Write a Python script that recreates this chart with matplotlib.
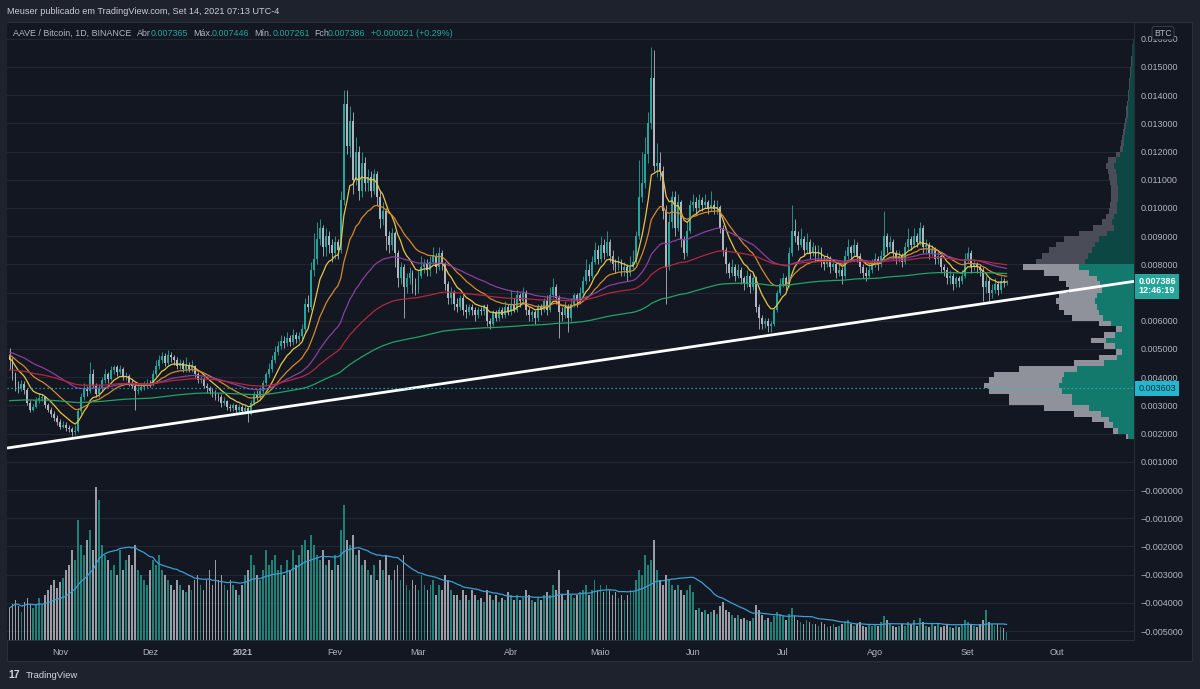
import numpy as np
import pandas as pd
import matplotlib
matplotlib.use('Agg')
import matplotlib.pyplot as plt
from matplotlib.patches import Rectangle

plt.rcParams['font.family'] = ['Liberation Sans', 'DejaVu Sans']

# ---------------- data ----------------
start_date = '2020-10-15'
first_open_mbtc = 4.8
close_mbtc = [
4.6, 4.1, 3.7, 3.6, 3.75, 3.55, 3.1, 2.85, 2.95, 3.2,
3.25, 3.3, 3.0, 2.85, 2.7, 2.55, 2.4, 2.25, 2.3, 2.2,
2.15, 2.05, 2.1, 2.8, 3.3, 3.6, 3.5, 4.1, 3.7, 3.4,
3.6, 3.9, 4.1, 3.95, 4.25, 4.35, 4.2, 4.3, 4.0, 4.05,
3.8, 3.7, 3.5, 3.55, 3.65, 3.7, 3.8, 3.75, 4.1, 4.4,
4.6, 4.75, 4.5, 4.8, 4.7, 4.6, 4.4, 4.5, 4.3, 4.45,
4.3, 4.4, 4.1, 3.9, 3.95, 3.7, 3.6, 3.5, 3.45, 3.35,
3.3, 3.1, 3.15, 2.95, 2.9, 3.0, 2.85, 2.95, 2.8, 2.9,
2.7, 3.1, 3.4, 3.3, 3.5, 3.8, 4.1, 4.3, 4.6, 4.9,
5.1, 5.3, 5.2, 5.4, 5.25, 5.5, 5.35, 5.45, 5.7, 6.6,
6.5, 7.8, 8.2, 8.9, 9.3, 8.6, 9.0, 8.7, 8.4, 8.8,
8.5, 10.3, 13.7, 12.2, 13.1, 11.0, 12.0, 10.6, 11.6, 10.9,
11.1, 10.6, 11.2, 10.4, 9.6, 9.9, 9.0, 8.7, 9.1, 8.4,
7.5, 7.9, 7.2, 7.5, 7.7, 7.3, 7.1, 7.6, 7.9, 8.0,
7.8, 8.1, 8.3, 7.9, 8.4, 8.0, 7.3, 6.8, 7.0, 6.6,
6.5, 6.8, 6.4, 6.3, 6.5, 6.4, 6.2, 6.4, 6.35, 6.5,
6.0, 5.9, 6.3, 6.1, 6.4, 6.2, 6.5, 6.3, 6.6, 6.4,
6.9, 6.7, 7.0, 6.4, 6.2, 6.3, 6.1, 6.5, 6.4, 6.7,
6.4, 6.9, 7.2, 6.8, 6.3, 6.2, 6.5, 6.1, 6.6, 6.9,
6.7, 7.0, 7.4, 7.8, 7.6, 8.1, 8.5, 8.2, 8.7, 8.4,
8.8, 8.3, 8.0, 7.9, 8.1, 7.8, 7.9, 7.7, 7.9, 8.1,
9.0, 10.4, 10.9, 11.9, 13.0, 14.6, 11.5, 11.6, 11.3, 9.9,
7.9, 9.5, 10.4, 9.3, 10.2, 8.9, 8.4, 9.2, 10.1, 10.2,
10.0, 10.3, 10.1, 10.2, 10.0, 10.1, 9.95, 10.05, 9.3, 8.5,
8.0, 7.7, 7.9, 7.6, 7.8, 7.5, 7.3, 7.6, 7.2, 7.5,
6.5, 6.1, 5.9, 6.0, 5.8, 5.9, 6.4, 7.0, 7.3, 7.5,
7.3, 8.4, 9.2, 9.0, 8.7, 8.9, 8.5, 8.8, 8.4, 8.6,
8.3, 8.5, 8.1, 8.0, 8.2, 7.9, 8.0, 7.7, 7.8, 7.6,
8.3, 8.6, 8.4, 8.7, 8.3, 7.9, 7.7, 7.6, 7.8, 8.0,
8.2, 8.0, 8.3, 9.0, 8.6, 8.8, 8.4, 8.2, 8.3, 8.1,
8.6, 8.9, 8.7, 9.0, 8.8, 9.3, 8.6, 8.7, 8.4, 8.5,
8.2, 8.3, 7.9, 7.8, 7.5, 7.6, 7.3, 7.5, 7.4, 7.6,
8.2, 8.4, 7.9, 8.0, 7.9, 7.8, 7.2, 7.4, 7.0, 7.1,
7.3, 7.1, 7.4, 7.365, 7.386]
high_mbtc = [
5.05,4.7,4.2,3.85,3.9,3.85,3.6,3.2,3.05,3.3,
3.45,3.4,3.35,3.1,2.95,2.8,2.65,2.5,2.45,2.4,
2.3,2.25,2.3,2.9,3.45,3.8,3.7,4.55,4.3,3.8,
3.75,4.0,4.3,4.2,4.4,4.45,4.45,4.45,4.35,4.2,
4.1,3.95,3.8,3.7,3.8,3.85,3.95,3.9,4.25,4.6,
4.8,4.9,4.85,4.95,4.9,4.8,4.7,4.65,4.6,4.7,
4.55,4.6,4.45,4.2,4.05,4.0,3.8,3.7,3.6,3.55,
3.45,3.4,3.3,3.2,3.05,3.1,3.05,3.05,3.0,3.0,
2.95,3.2,3.5,3.55,3.65,3.9,4.2,4.5,4.8,5.1,
5.3,5.5,5.45,5.6,5.5,5.7,5.6,5.6,5.9,6.8,
6.9,8.1,9.1,9.5,9.6,9.4,9.3,9.2,8.9,9.0,
8.9,10.6,14.2,14.2,13.6,13.4,12.5,12.2,12.0,11.8,
11.4,11.3,11.4,11.3,10.6,10.2,10.0,9.2,9.3,9.2,
8.5,8.1,8.0,7.7,7.9,7.8,7.5,7.8,8.3,8.2,
8.2,8.3,8.6,8.4,8.6,8.5,8.1,7.4,7.2,7.1,
6.8,6.9,6.9,6.6,6.6,6.6,6.5,6.5,6.5,6.6,
6.6,6.1,6.4,6.4,6.5,6.5,6.7,6.6,7.1,6.8,
7.1,7.0,7.2,7.1,6.5,6.4,6.4,6.6,6.6,6.8,
6.9,7.2,7.5,7.3,6.9,6.5,6.7,6.6,6.8,7.0,
7.0,7.2,7.6,8.2,8.0,8.3,8.8,8.7,9.0,8.9,
9.2,8.9,8.5,8.2,8.3,8.2,8.1,8.0,8.3,8.5,
9.2,11.7,12.0,12.5,13.4,15.7,15.6,12.3,12.0,11.5,
10.1,9.8,10.6,10.6,10.5,10.3,9.0,9.5,10.3,10.5,
10.4,10.5,10.4,10.5,10.3,10.6,10.3,10.3,10.1,9.4,
8.6,8.1,8.2,8.0,8.0,7.9,7.6,7.8,7.7,7.7,
7.6,6.6,6.2,6.1,6.1,6.0,6.5,7.1,7.5,7.7,
7.6,8.6,10.1,9.6,9.2,9.3,9.0,9.1,8.9,8.8,
8.7,8.7,8.6,8.3,8.4,8.3,8.2,8.1,8.0,7.9,
8.5,8.9,8.7,8.9,8.8,8.4,8.0,7.9,8.0,8.2,
8.4,8.3,8.5,9.9,9.1,9.0,8.9,8.5,8.5,8.4,
8.8,9.3,9.0,9.3,9.1,9.5,9.4,8.9,8.8,8.7,
8.6,8.5,8.4,8.0,7.9,7.8,7.7,7.6,7.6,7.8,
8.4,8.6,8.5,8.2,8.1,8.0,7.9,7.6,7.5,7.3,
7.5,7.4,7.6,7.5,7.446]
low_mbtc = [
4.3,3.9,3.5,3.45,3.5,3.4,3.0,2.75,2.8,2.9,
3.1,3.15,2.9,2.75,2.6,2.45,2.3,2.15,2.2,2.1,
2.05,1.9,1.95,2.05,2.7,3.2,3.35,3.45,3.6,3.3,
3.3,3.5,3.8,3.8,3.9,4.1,4.05,4.1,3.9,3.9,
3.7,3.6,2.85,3.4,3.5,3.55,3.6,3.65,3.7,4.0,
4.3,4.5,4.4,4.45,4.55,4.45,4.3,4.3,4.2,4.2,
4.2,4.2,4.0,3.8,3.8,3.6,3.45,3.4,3.3,3.2,
3.15,2.95,3.0,2.85,2.8,2.8,2.75,2.75,2.7,2.7,
2.4,2.65,3.0,3.2,3.2,3.45,3.7,4.0,4.2,4.5,
4.8,5.0,5.05,5.1,5.1,5.15,5.2,5.25,5.35,5.6,
6.3,6.4,7.6,8.0,8.7,8.3,8.3,8.4,8.1,8.2,
8.2,8.4,10.1,11.9,11.8,10.5,10.8,10.3,10.4,10.6,
10.6,10.4,10.5,10.1,9.3,9.4,8.5,8.4,8.5,7.9,
7.2,7.3,6.1,7.0,7.3,7.0,6.9,7.0,7.5,7.7,
7.6,7.6,8.0,7.7,7.8,7.8,7.1,6.6,6.6,6.4,
6.3,6.4,6.2,6.1,6.2,6.2,6.0,6.1,6.2,6.2,
5.8,5.7,5.8,6.0,6.0,6.1,6.1,6.2,6.2,6.3,
6.3,6.5,6.6,6.2,6.0,6.0,5.9,6.0,6.2,6.3,
6.2,6.3,6.8,6.6,5.4,6.0,6.1,5.6,6.0,6.5,
6.5,6.6,6.9,7.3,7.4,7.5,8.0,8.0,8.1,8.2,
8.3,8.1,7.8,7.7,7.8,7.6,7.6,7.4,7.6,7.8,
8.0,8.9,10.2,10.7,11.6,12.8,11.3,11.1,11.0,9.6,
6.6,7.8,9.3,9.0,9.2,8.6,8.2,8.3,9.1,9.9,
9.8,9.9,9.9,10.0,9.8,9.9,9.8,9.8,9.1,8.3,
7.7,7.5,7.6,7.4,7.5,7.3,7.1,7.2,7.0,7.1,
6.3,5.7,5.7,5.75,5.6,5.6,5.8,6.3,6.9,7.2,
7.1,7.2,8.3,8.8,8.5,8.6,8.3,8.4,8.2,8.3,
8.1,8.2,7.9,7.8,7.9,7.7,7.8,7.5,7.6,7.3,
7.5,8.2,8.2,8.3,8.1,7.7,7.5,7.4,7.5,7.7,
7.9,7.8,7.9,8.2,8.4,8.5,8.2,8.0,8.1,7.9,
8.0,8.5,8.5,8.6,8.6,8.7,8.4,8.4,8.2,8.3,
8.0,8.0,7.7,7.6,7.3,7.3,7.1,7.2,7.2,7.3,
7.5,8.1,7.7,7.8,7.7,7.6,6.7,7.0,6.7,6.8,
7.0,6.9,7.0,7.2,7.261]
volume = [
32, 36, 40, 34, 28, 38, 42, 36, 32, 35,
42, 35, 45, 50, 55, 60, 52, 58, 62, 70,
75, 90, 80, 120, 95, 85, 100, 110, 90, 153,
140, 95, 85, 80, 70, 75, 65, 90, 70, 80,
85, 75, 95, 70, 65, 60, 55, 70, 80, 75,
85, 70, 65, 60, 55, 50, 60, 55, 50, 48,
55, 50, 60, 65, 55, 50, 60, 70, 55, 80,
60, 65, 55, 50, 60, 55, 50, 45, 55, 65,
70, 85, 75, 65, 60, 70, 90, 75, 80, 85,
70, 75, 65, 80, 70, 90, 75, 85, 95, 100,
90, 105, 95, 85, 80, 90, 75, 80, 70, 85,
75, 110, 135, 100, 95, 105, 85, 90, 75, 80,
70, 65, 75, 60, 80, 70, 85, 65, 60, 70,
75, 60, 85, 55, 50, 60, 55, 50, 65, 55,
50, 55, 60, 45, 55, 50, 65, 60, 50, 45,
45, 40, 50, 45, 40, 50, 45, 40, 42, 38,
50, 45, 40, 45, 38, 42, 40, 48, 45, 40,
45, 40, 42, 50, 45, 40, 38, 42, 40, 45,
48, 45, 55, 50, 70, 45, 40, 50, 45, 42,
45, 48, 50, 55, 45, 50, 60, 50, 55, 48,
55, 50, 45, 48, 42, 45, 40, 45, 50, 48,
60, 70, 65, 85, 75, 80, 100, 70, 60, 55,
65, 60, 55, 50, 55, 50, 45, 50, 55, 48,
30, 32, 28, 30, 26, 28, 30, 26, 34, 38,
30, 28, 25, 22, 25, 21, 22, 20, 19, 22,
35, 30, 25, 20, 22, 18, 24, 28, 26, 24,
20, 26, 32, 24, 20, 18, 16, 20, 18, 16,
16, 14, 18, 16, 13, 14, 16, 13, 14, 16,
18, 20, 16, 14, 16, 18, 14, 13, 16, 14,
16, 14, 18, 24, 20, 16, 14, 13, 14, 16,
14, 18, 16, 20, 14, 22, 18, 14, 13, 16,
14, 16, 13, 14, 16, 13, 12, 14, 13, 16,
20, 18, 16, 14, 13, 16, 20, 30, 18, 16,
14, 16, 13, 12, 8]

ema_periods = [9, 21, 50, 100, 200]
ema_seed_mbtc = [4.7, 4.8, 4.9, 4.25, 3.15]
ema_colors = ['#e8c547', '#d48a2c', '#8a3fa0', '#b3283f', '#21a366']
vol_ma_period = 20

month_starts = ['2020-11-01', '2020-12-01', '2021-01-01', '2021-02-01', '2021-03-01',
                '2021-04-01', '2021-05-01', '2021-06-01', '2021-07-01', '2021-08-01',
                '2021-09-01', '2021-10-01']
month_labels = ['Nov', 'Dez', '2021', 'Fev', 'Mar', 'Abr', 'Maio', 'Jun', 'Jul', 'Ago', 'Set', 'Out']

price_ticks = [-0.005, -0.004, -0.003, -0.002, -0.001, 0.0, 0.001, 0.002, 0.003, 0.004, 0.005,
               0.006, 0.007, 0.008, 0.009, 0.010, 0.011, 0.012, 0.013, 0.014, 0.015, 0.016]
# the 0.007000 label is hidden behind the last-price tag in the reference
price_tick_labels = ['−0.005000', '−0.004000', '−0.003000', '−0.002000', '−0.001000', '−0.000000',
                     '0.001000', '0.002000', '0.003000', '0.004000', '0.005000', '0.006000',
                     '', '0.008000', '0.009000', '0.010000', '0.011000', '0.012000',
                     '0.013000', '0.014000', '0.015000', '0.016000']

# visible-range volume profile (rows of 0.0002 BTC starting at 0.0018)
vp_row_start = 0.0018
vp_row_step = 0.0002
vp_total = [8, 21, 30, 42, 60, 90, 125, 125, 145, 150,
            145, 140, 115, 60, 35, 18, 30, 43, 30, 18,
            35, 62, 70, 75, 78, 75, 65, 68, 75, 90,
            111, 98, 92, 85, 78, 70, 55, 41, 32, 28,
            25, 24, 23, 23, 23, 24, 25, 26, 28, 26,
            18, 14, 13, 12, 11, 10, 9, 8, 8, 7,
            6, 6, 5, 5, 4, 4, 3, 3, 2, 2, 1]
vp_up_share = [0.7, 0.75, 0.7, 0.6, 0.55, 0.5, 0.5, 0.5, 0.5, 0.5,
               0.5, 0.5, 0.5, 0.5, 0.5, 0.65, 0.65, 0.65, 0.65, 0.65,
               0.65, 0.5, 0.5, 0.5, 0.5, 0.5, 0.5, 0.5, 0.5, 0.5,
               0.5, 0.5, 0.5, 0.5, 0.5, 0.5, 0.5, 0.5, 0.7, 0.7,
               0.7, 0.7, 0.7, 0.7, 0.7, 0.7, 0.7, 0.7, 0.7, 0.7,
               0.8, 0.8, 0.8, 0.8, 0.8, 0.8, 0.8, 0.8, 0.8, 0.8,
               0.8, 0.8, 0.8, 0.8, 0.8, 0.8, 0.8, 0.8, 0.8, 0.8, 0.8]
value_area_high = 0.0080
poc_price = 0.003603
last_price = 0.007386
countdown = '12:46:19'

trend_dates = ['2020-10-15', '2021-09-14']
trend_prices = [0.00150, 0.00673]

header_text = 'Meuser publicado em TradingView.com, Set 14, 2021 07:13 UTC-4'
legend_parts = [('AAVE / Bitcoin, 1D, BINANCE', 'lbl', 13), ('Abr', 'lbl', 137), ('0.007365', 'val', 151),
                ('Máx.', 'lbl', 193), ('0.007446', 'val', 212), ('Mín.', 'lbl', 254),
                ('0.007261', 'val', 273), ('Fch', 'lbl', 314), ('0.007386', 'val', 328),
                ('+0.000021 (+0.29%)', 'val', 371)]

# ---------------- prep ----------------
n = min(len(close_mbtc), len(high_mbtc), len(low_mbtc), len(volume))
close = np.array(close_mbtc[:n]) * 1e-3
opn = np.concatenate([[first_open_mbtc * 1e-3], close[:-1]])
high = np.maximum(np.array(high_mbtc[:n]) * 1e-3, np.maximum(opn, close))
low = np.minimum(np.array(low_mbtc[:n]) * 1e-3, np.minimum(opn, close))
vol = np.array(volume[:n], dtype=float)
t0 = pd.Timestamp(start_date)
x = np.arange(n)
up = close >= opn

def ema(values, period, seed):
    a = 2.0 / (period + 1)
    e = seed
    out = []
    for v in values:
        e = e + a * (v - e)
        out.append(e)
    return np.array(out)

def day_of(d):
    return (pd.Timestamp(d) - t0).days

# ---------------- figure ----------------
W, H = 1200, 689
fig = plt.figure(figsize=(12, 6.89), dpi=100, facecolor='#1e222d')

def fx(px):
    return px / W

def fy(py):
    return 1 - py / H

# chart container (behind everything)
fig.patches.append(Rectangle((fx(7), fy(661)), fx(1192) - fx(7), fy(22) - fy(661),
                             transform=fig.transFigure, fc='#131722', ec='#2a2e39', lw=0.8, zorder=-10))

pane_l, pane_r, pane_t, pane_b = 7, 1134, 23, 640
rect = [fx(pane_l), fy(pane_b), fx(pane_r) - fx(pane_l), fy(pane_t) - fy(pane_b)]
ylim = (-0.005319, 0.016560)
xlim = (-0.84, 376.7)

ax = fig.add_axes(rect)
ax.set_zorder(1)
ax.set_facecolor('#131722')
ax.set_xlim(*xlim)
ax.set_ylim(*ylim)
for s in ['top', 'left']:
    ax.spines[s].set_visible(False)
ax.spines['right'].set_color('#2a2e39')
ax.spines['bottom'].set_color('#2a2e39')
ax.yaxis.tick_right()
ax.set_yticks(price_ticks)
ax.set_yticklabels(price_tick_labels)
ax.tick_params(axis='y', length=0, pad=5, labelsize=6.5, labelcolor='#b2b5be')
ax.set_xticks([day_of(d) for d in month_starts])
ax.set_xticklabels(month_labels)
ax.tick_params(axis='x', length=0, pad=6, labelsize=6.5, labelcolor='#b2b5be')
for lbl in ax.get_xticklabels():
    if lbl.get_text().isdigit():
        lbl.set_fontweight('bold')
ax.grid(axis='y', color='#232733', lw=0.8)
ax.set_axisbelow(True)

up_col = '#26a69a'
dn_col = '#b2b5be'

# volume overlay
axv = fig.add_axes(rect)
axv.set_zorder(2)
axv.patch.set_visible(False)
axv.set_xlim(*xlim)
axv.set_ylim(0, vol.max() * 617 / 153)
axv.axis('off')
axv.bar(x, vol, width=0.6, color=np.where(up, '#1f8078', '#9a9da5'), lw=0)
vol_ma = pd.Series(vol).rolling(vol_ma_period, min_periods=1).mean()
axv.plot(x, vol_ma, color='#3b9fd6', lw=0.9)

# volume profile overlay
axp = fig.add_axes(rect)
axp.set_zorder(3)
axp.patch.set_visible(False)
axp.set_xlim(pane_r - pane_l, 0)
axp.set_ylim(*ylim)
axp.axis('off')
vp_tot = np.array(vp_total, dtype=float)
vp_up = vp_tot * np.array(vp_up_share)
vp_dn = vp_tot - vp_up
centers = vp_row_start + vp_row_step * (np.arange(len(vp_tot)) + 0.5)
in_va = centers <= value_area_high
axp.barh(centers, vp_up, height=vp_row_step, left=0,
         color=np.where(in_va, '#12796c', '#0d4744'), lw=0)
axp.barh(centers, vp_dn, height=vp_row_step, left=vp_up,
         color=np.where(in_va, '#8f929b', '#4a4d57'), lw=0)

# candles + EMAs + trend line (top layer)
axc = fig.add_axes(rect)
axc.set_zorder(4)
axc.patch.set_visible(False)
axc.set_xlim(*xlim)
axc.set_ylim(*ylim)
axc.axis('off')
cols = np.where(up, up_col, dn_col)
axc.vlines(x, low, high, colors=cols, lw=0.6, zorder=3)
body_lo = np.minimum(opn, close)
body_h = np.maximum(np.abs(close - opn), 0.00003)
axc.bar(x, body_h, bottom=body_lo, width=0.64, color=cols, lw=0, zorder=4)
for p, s, c in zip(ema_periods, ema_seed_mbtc, ema_colors):
    axc.plot(x, ema(close, p, s * 1e-3), color=c, lw=0.9, zorder=5)
axc.axline((day_of(trend_dates[0]), trend_prices[0]), (day_of(trend_dates[1]), trend_prices[1]),
           color='#ffffff', lw=2.0, solid_capstyle='butt', zorder=6)
axc.axhline(poc_price, color='#22b8cf', lw=0.9, ls=(0, (1, 2.2)), zorder=6)

# price labels on the scale
axc.annotate(f'{last_price:.6f}\n{countdown}', xy=(1.0, last_price), xycoords=('axes fraction', 'data'),
             xytext=(3, -3.4), textcoords='offset points', ha='left', va='center',
             fontsize=6.5, fontweight='bold', color='#ffffff', linespacing=1.0,
             bbox=dict(boxstyle='square,pad=0.35', fc='#26a69a', ec='none'), annotation_clip=False)
axc.annotate(f'{poc_price:.6f}', xy=(1.0, poc_price), xycoords=('axes fraction', 'data'),
             xytext=(3, 0), textcoords='offset points', ha='left', va='center',
             fontsize=6.5, color='#1c2b3a',
             bbox=dict(boxstyle='square,pad=0.35', fc='#22b8cf', ec='none'), annotation_clip=False)

# BTC currency label
fig.text(fx(1163), fy(33), 'BTC', fontsize=6.3, color='#b2b5be', ha='center', va='center', zorder=10,
         bbox=dict(boxstyle='round,pad=0.25,rounding_size=0.3', fc='#131722', ec='#434651', lw=0.6))

# header and legend
fig.text(fx(7), fy(12), header_text, fontsize=6.6, color='#c9ccd3', ha='left', va='center')
for txt, kind, px in legend_parts:
    fig.text(fx(px), fy(33), txt, fontsize=6.4, ha='left', va='center', zorder=10,
             color='#b2b5be' if kind == 'lbl' else '#26a69a')

# TradingView logo
fig.text(fx(8), fy(675), '17', fontsize=7.5, fontweight='bold', color='#d1d4dc', ha='left', va='center')
fig.text(fx(26), fy(675), 'TradingView', fontsize=6.8, color='#d1d4dc', ha='left', va='center')

fig.savefig('out.png', dpi=100, facecolor=fig.get_facecolor())
